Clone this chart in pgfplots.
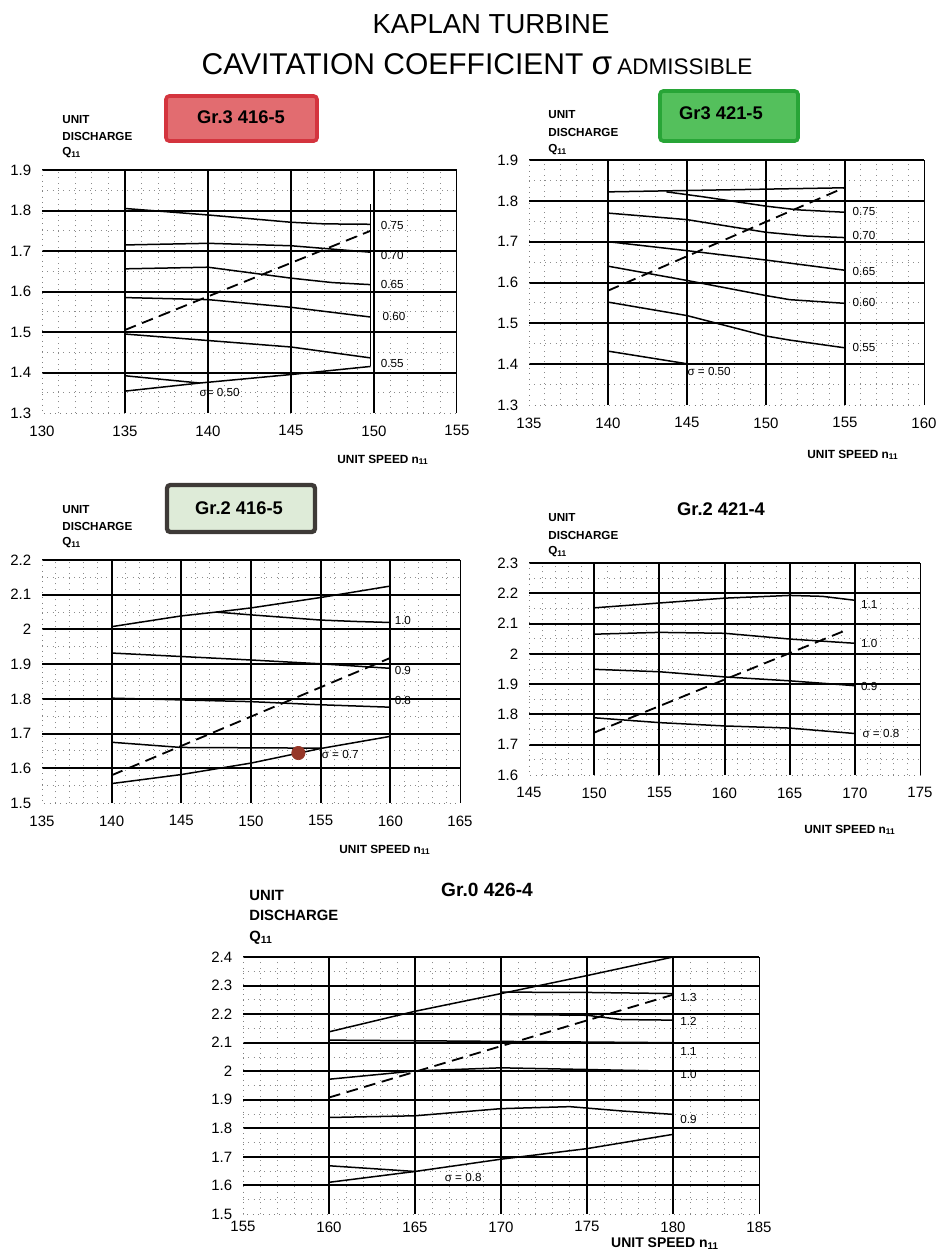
\documentclass[border=0pt]{standalone}
\usepackage{fontspec}
\setmainfont{Liberation Sans}
\usepackage{pgfplots}
\pgfplotsset{compat=1.18}
\definecolor{redfill}{RGB}{226,108,112}
\definecolor{redborder}{RGB}{212,52,62}
\definecolor{greenfill}{RGB}{84,192,92}
\definecolor{greenborder}{RGB}{40,165,55}
\definecolor{grayfill}{RGB}{222,235,216}
\definecolor{grayborder}{RGB}{62,58,55}
\definecolor{dotred}{RGB}{150,55,40}
\tikzset{lbl/.style={font=\fontsize{7}{8}\selectfont, inner sep=1pt}}
\pgfplotsset{
  kap/.style={
    scale only axis, clip=false, anchor=south west,
    axis line style={draw=none},
    major tick length=0pt, minor tick length=0pt,
    xminorgrids=true, yminorgrids=true,
    minor x tick num=4, minor y tick num=1,
    minor grid style={black!45, line width=0.55pt, dash pattern=on 0.6pt off 2.6pt},
    major grid style={black, line width=1.2pt},
    extra x tick labels={}, extra y tick labels={},
    extra tick style={grid=major},
    ticklabel style={font=\fontsize{9}{10}\selectfont},
    /pgf/number format/assume math mode=true,
    yticklabel style={xshift=-3pt},
    xticklabel style={yshift=-4pt},
    extra description/.code={
      \draw[black!50, line width=0.55pt, dash pattern=on 0.6pt off 2.6pt] (0,1) -- (0,0) -- (1,0);
      \draw[black, line width=0.6pt] (1,0) -- (1,1);
    },
  },
  cv/.style={black, line width=0.9pt, mark=none},
  dsh/.style={black, line width=1.1pt, mark=none, dash pattern=on 7pt off 4pt},
}
\newcommand{\ud}[3]{%
  \node[anchor=west, font=\fontsize{7}{8}\selectfont\bfseries, inner sep=0pt] at (#1,#2) {UNIT};
  \node[anchor=west, font=\fontsize{7}{8}\selectfont\bfseries, inner sep=0pt] at (#1,#2+#3) {DISCHARGE};
  \node[anchor=west, font=\fontsize{7}{8}\selectfont\bfseries, inner sep=0pt] at (#1,#2+2*#3) {Q\textsubscript{11}};
}
\begin{document}
\begin{tikzpicture}
\useasboundingbox (0,0) rectangle (562.8pt,-750.6pt);
\begin{scope}[x=0.6pt,y=-0.6pt]
% titles
\node[anchor=base, font=\fontsize{16.5}{20}\selectfont, inner sep=0pt] at (491,33) {KAPLAN TURBINE};
\node[anchor=base, inner sep=0pt] at (477,74) {\fontsize{18}{20}\selectfont CAVITATION COEFFICIENT {\fontsize{20}{20}\selectfont σ}\,{\fontsize{13.5}{14}\selectfont ADMISSIBLE}};
% panel labels
\filldraw[fill=redfill, draw=redborder, line width=2.2pt, rounded corners=2pt] (166,96) rectangle (317,141);
\node[font=\fontsize{11}{12}\selectfont\bfseries] at (241,117) {Gr.3 416-5};
\filldraw[fill=greenfill, draw=greenborder, line width=2.2pt, rounded corners=2pt] (660,91) rectangle (798,141);
\node[font=\fontsize{11}{12}\selectfont\bfseries] at (721,113) {Gr3 421-5};
\filldraw[fill=grayfill, draw=grayborder, line width=2.6pt, rounded corners=2pt] (167,485) rectangle (315,532);
\node[font=\fontsize{11}{12}\selectfont\bfseries] at (239,508) {Gr.2 416-5};
\node[font=\fontsize{11}{12}\selectfont\bfseries] at (721,509) {Gr.2 421-4};
\node[font=\fontsize{11.5}{12}\selectfont\bfseries] at (487,890) {Gr.0 426-4};
% axis labels
\ud{62}{120}{16.5}
\ud{548}{115}{17.5}
\ud{62}{510}{16.5}
\ud{548}{518}{17}
\node[anchor=west, font=\fontsize{8.9}{10}\selectfont\bfseries, inner sep=0pt] at (249,895) {UNIT};
\node[anchor=west, font=\fontsize{8.9}{10}\selectfont\bfseries, inner sep=0pt] at (249,915) {DISCHARGE};
\node[anchor=west, font=\fontsize{8.9}{10}\selectfont\bfseries, inner sep=0pt] at (249,938) {Q\textsubscript{11}};
\node[font=\fontsize{7.1}{8}\selectfont\bfseries] at (383,460) {UNIT SPEED n\textsubscript{11}};
\node[font=\fontsize{7.1}{8}\selectfont\bfseries] at (853,455) {UNIT SPEED n\textsubscript{11}};
\node[font=\fontsize{7.1}{8}\selectfont\bfseries] at (385,850) {UNIT SPEED n\textsubscript{11}};
\node[font=\fontsize{7.1}{8}\selectfont\bfseries] at (850,830) {UNIT SPEED n\textsubscript{11}};
\node[font=\fontsize{8.4}{9}\selectfont\bfseries, inner sep=0pt] at (665,1244) {UNIT SPEED n\textsubscript{11}};
\end{scope}

% ---------------- Panel 1: Gr.3 416-5
\begin{axis}[kap, at={(25.2pt,-247.8pt)}, width=249pt, height=145.8pt,
  xmin=130, xmax=155, ymin=1.3, ymax=1.9,
  xtick={130,135,...,155}, ytick={1.3,1.4,1.5,1.6,1.7,1.8,1.9},
  extra x ticks={135,140,145,150}, extra y ticks={1.4,1.5,1.6,1.7,1.8,1.9}]
\addplot[cv] coordinates {(135,1.805) (140,1.789) (145,1.771) (147,1.767) (149.8,1.766)};
\addplot[cv] coordinates {(135,1.715) (140,1.719) (145,1.713) (149.8,1.697)};
\addplot[cv] coordinates {(135,1.656) (140,1.660) (145,1.633) (147.5,1.622) (149.8,1.617)};
\addplot[cv] coordinates {(135,1.585) (140,1.580) (145,1.561) (149.8,1.537)};
\addplot[cv] coordinates {(135,1.495) (140,1.479) (145,1.463) (149.8,1.436)};
\addplot[cv] coordinates {(135,1.354) (139.5,1.374) (145,1.395) (149.8,1.415)};
\addplot[cv] coordinates {(135,1.392) (139.5,1.374)};
\addplot[cv] coordinates {(149.8,1.415) (149.8,1.815)};
\addplot[dsh] coordinates {(135,1.505) (149.8,1.750)};
\node[lbl] at (axis cs:151.1,1.764) {0.75};
\node[lbl] at (axis cs:151.1,1.690) {0.70};
\node[lbl] at (axis cs:151.1,1.617) {0.65};
\node[lbl] at (axis cs:151.2,1.538) {0.60};
\node[lbl] at (axis cs:151.1,1.423) {0.55};
\node[lbl] at (axis cs:140.7,1.350) {σ= 0.50};
\end{axis}

% ---------------- Panel 2: Gr3 421-5
\begin{axis}[kap, at={(317.4pt,-243pt)}, width=237pt, height=147pt,
  xmin=135, xmax=160, ymin=1.3, ymax=1.9,
  xtick={135,140,...,160}, ytick={1.3,1.4,1.5,1.6,1.7,1.8,1.9},
  extra x ticks={140,145,150,155}, extra y ticks={1.4,1.5,1.6,1.7,1.8,1.9}]
\addplot[cv] coordinates {(140,1.822) (155,1.832)};
\addplot[cv] coordinates {(143.7,1.822) (146,1.810) (150,1.787) (152,1.778) (155,1.772)};
\addplot[cv] coordinates {(140,1.770) (145,1.754) (150,1.723) (152.5,1.714) (155,1.710)};
\addplot[cv] coordinates {(140,1.700) (145,1.678) (150,1.655) (155,1.630)};
\addplot[cv] coordinates {(140,1.640) (145,1.605) (150,1.568) (151.5,1.558) (155,1.549)};
\addplot[cv] coordinates {(140,1.552) (145,1.519) (150,1.469) (151.5,1.459) (155,1.440)};
\addplot[cv] coordinates {(140,1.432) (145,1.401)};
\addplot[dsh] coordinates {(140,1.580) (155,1.833)};
\node[lbl] at (axis cs:156.2,1.775) {0.75};
\node[lbl] at (axis cs:156.2,1.714) {0.70};
\node[lbl] at (axis cs:156.2,1.628) {0.65};
\node[lbl] at (axis cs:156.2,1.552) {0.60};
\node[lbl] at (axis cs:156.2,1.440) {0.55};
\node[lbl] at (axis cs:146.4,1.383) {σ = 0.50};
\end{axis}

% ---------------- Panel 3: Gr.2 416-5
\begin{axis}[kap, at={(25.2pt,-481.8pt)}, width=250.8pt, height=145.8pt,
  xmin=135, xmax=165, ymin=1.5, ymax=2.2,
  xtick={135,140,...,165}, ytick={1.5,1.6,1.7,1.8,1.9,2,2.1,2.2},
  extra x ticks={140,145,150,155,160}, extra y ticks={1.6,1.7,1.8,1.9,2,2.1,2.2}]
\addplot[cv] coordinates {(140,2.008) (145,2.039) (147.5,2.050) (150,2.062) (155,2.092) (160,2.125)};
\addplot[cv] coordinates {(147.5,2.050) (150,2.042) (155,2.027) (157.5,2.023) (160,2.020)};
\addplot[cv] coordinates {(140,1.932) (150,1.912) (155,1.901) (160,1.888)};
\addplot[cv] coordinates {(140,1.802) (145,1.797) (150,1.792) (155,1.783) (160,1.776)};
\addplot[cv] coordinates {(140,1.675) (145,1.660) (155,1.658)};
\addplot[cv] coordinates {(140,1.556) (145,1.582) (150,1.615) (155,1.657) (160,1.692)};
\addplot[dsh] coordinates {(140,1.580) (160,1.918)};
\addplot[only marks, mark=*, mark size=4pt, color=dotred] coordinates {(153.4,1.644)};
\node[lbl] at (axis cs:160.9,2.026) {1.0};
\node[lbl] at (axis cs:160.9,1.882) {0.9};
\node[lbl] at (axis cs:160.9,1.795) {0.8};
\node[lbl] at (axis cs:156.4,1.639) {σ = 0.7};
\end{axis}

% ---------------- Panel 4: Gr.2 421-4
\begin{axis}[kap, at={(317.4pt,-465pt)}, width=234.6pt, height=127.2pt,
  xmin=145, xmax=175, ymin=1.6, ymax=2.3,
  xtick={145,150,...,175}, ytick={1.6,1.7,1.8,1.9,2,2.1,2.2,2.3},
  extra x ticks={150,155,160,165,170}, extra y ticks={1.7,1.8,1.9,2,2.1,2.2,2.3}]
\addplot[cv] coordinates {(150,2.152) (155,2.168) (160,2.184) (165,2.193) (167.5,2.190) (170,2.177)};
\addplot[cv] coordinates {(150,2.065) (155,2.071) (160,2.068) (165,2.049) (170,2.035)};
\addplot[cv] coordinates {(150,1.949) (155,1.941) (160,1.924) (165,1.911) (170,1.895)};
\addplot[cv] coordinates {(150,1.789) (155,1.773) (160,1.762) (165,1.755) (170,1.737)};
\addplot[dsh] coordinates {(150,1.740) (169.2,2.076)};
\node[lbl] at (axis cs:171.1,2.163) {1.1};
\node[lbl] at (axis cs:171.1,2.033) {1.0};
\node[lbl] at (axis cs:171.1,1.892) {0.9};
\node[lbl] at (axis cs:172.0,1.737) {σ = 0.8};
\end{axis}

% ---------------- Panel 5: Gr.0 426-4
\begin{axis}[kap, at={(145.8pt,-728.4pt)}, width=309.6pt, height=154.2pt,
  xmin=155, xmax=185, ymin=1.5, ymax=2.4,
  xtick={155,160,...,185}, ytick={1.5,1.6,1.7,1.8,1.9,2,2.1,2.2,2.3,2.4},
  extra x ticks={160,165,170,175,180}, extra y ticks={1.6,1.7,1.8,1.9,2,2.1,2.2,2.3,2.4},
  xticklabel style={yshift=3pt}]
\addplot[cv] coordinates {(160,2.138) (165,2.210) (170,2.272) (175,2.335) (180,2.400)};
\addplot[cv] coordinates {(170,2.277) (175,2.276) (180,2.272)};
\addplot[cv] coordinates {(165,2.202) (170,2.199) (175,2.196) (177,2.181) (180,2.179)};
\addplot[cv] coordinates {(160,2.109) (180,2.100)};
\addplot[cv] coordinates {(160,1.972) (165,2.001) (170,2.012) (180,2.000)};
\addplot[cv] coordinates {(160,1.838) (165,1.844) (170,1.869) (174,1.876) (177,1.861) (180,1.849)};
\addplot[cv] coordinates {(160,1.669) (165,1.649)};
\addplot[cv] coordinates {(160,1.611) (165,1.649) (170,1.692) (175,1.729) (180,1.779)};
\addplot[dsh] coordinates {(160,1.908) (180,2.268)};
\node[lbl] at (axis cs:180.9,2.257) {1.3};
\node[lbl] at (axis cs:180.9,2.175) {1.2};
\node[lbl] at (axis cs:180.9,2.070) {1.1};
\node[lbl] at (axis cs:180.9,1.990) {1.0};
\node[lbl] at (axis cs:180.9,1.830) {0.9};
\node[lbl] at (axis cs:167.8,1.628) {σ = 0.8};
\end{axis}
\end{tikzpicture}
\end{document}
